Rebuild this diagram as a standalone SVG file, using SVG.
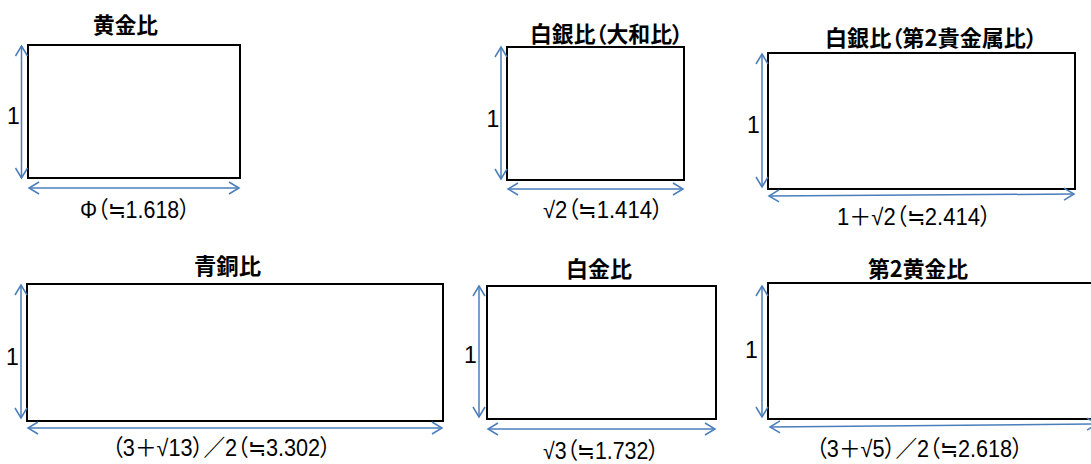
<svg xmlns="http://www.w3.org/2000/svg" width="1091" height="464" viewBox="0 0 1091 464">
<style>
.box{fill:#fff;stroke:#000;stroke-width:2}
.dim{fill:none;stroke:#4a7ebb;stroke-width:1.5;marker-start:url(#ah);marker-end:url(#ah)}
.title{font-family:"Noto Sans CJK JP","Liberation Sans",sans-serif;font-weight:700;font-size:22px;fill:#000;font-feature-settings:"palt"}
.lab{font-family:"Liberation Sans","Noto Sans CJK JP",sans-serif;font-size:23px;fill:#000;font-feature-settings:"palt"}
.one{font-family:"Liberation Sans",sans-serif;font-size:23px;fill:#000;text-anchor:middle}
</style>
<defs>
<marker id="ah" markerUnits="userSpaceOnUse" viewBox="0 0 14 14" markerWidth="14" markerHeight="14" refX="11.5" refY="7" orient="auto-start-reverse" overflow="visible">
<path d="M1.5,1 L11.5,7 L1.5,13" fill="none" stroke="#4a7ebb" stroke-width="1.5"/>
</marker>
</defs>
<rect width="1091" height="464" fill="#fff"/>

<g id="golden">
<rect class="box" x="28" y="45" width="212" height="133"/>
<text class="title" x="93" y="33" textLength="65" lengthAdjust="spacingAndGlyphs">黄金比</text>
<text class="one" x="13.5" y="124">1</text>
<text class="lab" x="80" y="218" textLength="110" lengthAdjust="spacingAndGlyphs">Φ（≒1.618）</text>
</g>

<g id="silver-yamato">
<rect class="box" x="507" y="47" width="177" height="133"/>
<text class="title" x="530" y="42" textLength="153" lengthAdjust="spacingAndGlyphs">白銀比（大和比）</text>
<text class="one" x="493" y="127">1</text>
<text class="lab" x="543" y="218" textLength="120" lengthAdjust="spacingAndGlyphs">√2（≒1.414）</text>
</g>

<g id="silver-metal">
<rect class="box" x="768" y="53" width="307" height="136"/>
<text class="title" x="825" y="46" textLength="212" lengthAdjust="spacingAndGlyphs">白銀比（第2貴金属比）</text>
<text class="one" x="753.5" y="133">1</text>
<text class="lab" x="837" y="225" textLength="154" lengthAdjust="spacingAndGlyphs">1＋√2（≒2.414）</text>
</g>

<g id="bronze">
<rect class="box" x="27" y="284" width="416" height="137"/>
<text class="title" x="194" y="274" textLength="67" lengthAdjust="spacingAndGlyphs">青銅比</text>
<text class="one" x="12.5" y="365">1</text>
<text class="lab" x="112" y="456" textLength="219" lengthAdjust="spacingAndGlyphs">（3＋√13）／2（≒3.302）</text>
</g>

<g id="platinum">
<rect class="box" x="487" y="286" width="229" height="133"/>
<text class="title" x="566" y="277" textLength="66" lengthAdjust="spacingAndGlyphs">白金比</text>
<text class="one" x="470.5" y="363">1</text>
<text class="lab" x="543" y="459" textLength="116" lengthAdjust="spacingAndGlyphs">√3（≒1.732）</text>
</g>

<g id="second-golden">
<rect class="box" x="768" y="283" width="356" height="136"/>
<text class="title" x="868" y="277" textLength="100" lengthAdjust="spacingAndGlyphs">第2黄金比</text>
<text class="one" x="751.5" y="358">1</text>
<text class="lab" x="816" y="457" textLength="207" lengthAdjust="spacingAndGlyphs">（3＋√5）／2（≒2.618）</text>
</g>

<g id="connectors">
<line class="dim" x1="21.5" y1="46" x2="21.5" y2="178"/>
<line class="dim" x1="29" y1="188" x2="239" y2="188"/>
<line class="dim" x1="501" y1="47" x2="501" y2="179"/>
<line class="dim" x1="508" y1="189" x2="683" y2="189"/>
<line class="dim" x1="762" y1="54" x2="762" y2="187"/>
<line class="dim" x1="769" y1="196" x2="1074" y2="194"/>
<line class="dim" x1="21" y1="285" x2="21" y2="418"/>
<line class="dim" x1="28" y1="428" x2="442" y2="428"/>
<line class="dim" x1="479" y1="286" x2="479" y2="417"/>
<line class="dim" x1="488" y1="429" x2="715" y2="429"/>
<line class="dim" x1="762" y1="286" x2="762" y2="417"/>
<line class="dim" x1="770" y1="427" x2="1097" y2="424"/>
</g>
</svg>
